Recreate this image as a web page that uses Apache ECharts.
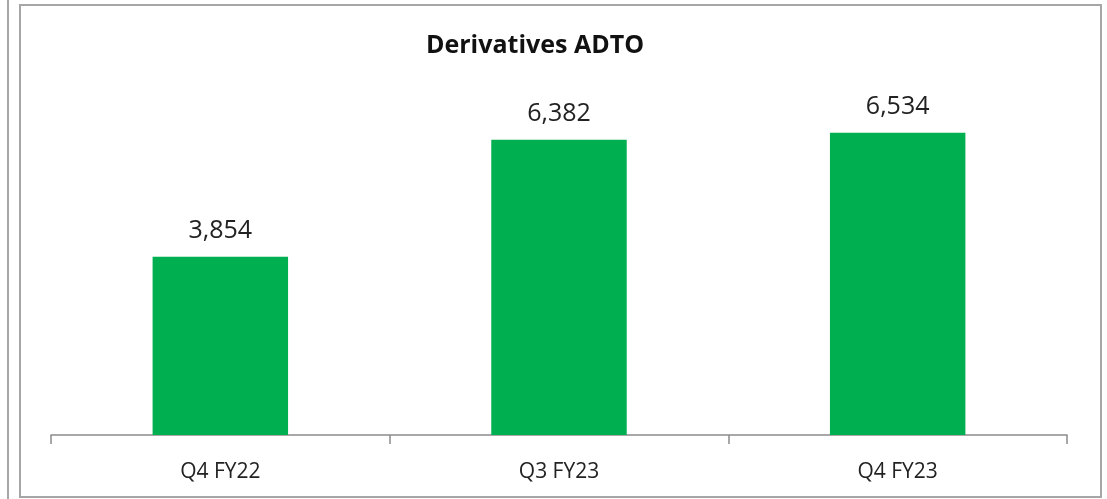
<!DOCTYPE html>
<html>
<head>
<meta charset="utf-8">
<script src="https://cdn.jsdelivr.net/npm/echarts@6/dist/echarts.min.js"></script>
<style>
  html, body { margin: 0; padding: 0; background: #fff; }
  #chart { width: 1107px; height: 499px; }
</style>
</head>
<body>
<div id="chart"></div>
<script>
const categories = ['Q4 FY22', 'Q3 FY23', 'Q4 FY23'];
const adto = [3854, 6382, 6534];

const chart = echarts.init(document.getElementById('chart'));
chart.setOption({
  animation: false,
  title: {
    text: 'Derivatives ADTO',
    left: 530,
    textAlign: 'center',
    top: 28,
    textStyle: { fontFamily: 'Open Sans', fontSize: 25, fontWeight: 'bold', color: '#111' }
  },
  graphic: [
    // frame of this chart and the edge of the neighbouring one
    { type: 'rect', shape: { x: 20, y: 5, width: 1081, height: 492 },
      style: { fill: 'none', stroke: '#a6a6a6', lineWidth: 2 } },
    { type: 'line', shape: { x1: 8, y1: 0, x2: 8, y2: 499 },
      style: { stroke: '#a6a6a6', lineWidth: 2 } }
  ],
  grid: { left: 51, right: 40, top: 65, bottom: 64 },
  xAxis: {
    type: 'category',
    data: categories,
    axisLine: { lineStyle: { color: '#8c8c8c', width: 1.5 } },
    axisTick: { show: true, length: 9, lineStyle: { color: '#8c8c8c', width: 1.5 } },
    axisLabel: { margin: 27, fontFamily: 'Open Sans', fontSize: 21, color: '#222' }
  },
  yAxis: {
    type: 'value',
    min: 0,
    max: 8000,
    show: false,
    splitLine: { show: false }
  },
  series: [{
    type: 'bar',
    data: adto,
    barWidth: '40%',
    itemStyle: { color: '#00b050' },
    label: {
      show: true,
      position: 'top',
      distance: 13,
      fontFamily: 'Open Sans',
      fontSize: 25,
      color: '#222',
      formatter: p => p.value.toLocaleString('en-US')
    }
  }]
});
</script>
</body>
</html>
